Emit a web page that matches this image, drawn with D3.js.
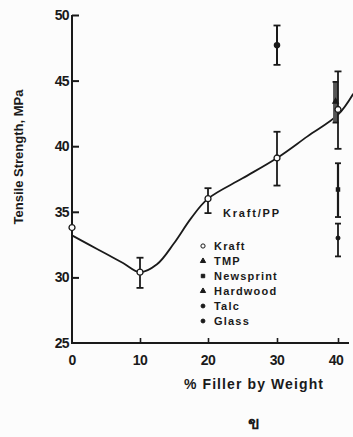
<!DOCTYPE html>
<html><head><meta charset="utf-8">
<script src="https://cdn.jsdelivr.net/npm/d3@7"></script>
<style>
html,body{margin:0;padding:0;background:#fcfcfc;}
svg{display:block;}
text{font-family:"Liberation Sans",Arial,sans-serif;font-weight:bold;fill:#1a1a1a;}
</style></head><body>
<svg id="c" width="353" height="437"></svg>
<script>
// ---- data ----
const xTicks = [0, 10, 20, 30, 40];
const yTicks = [25, 30, 35, 40, 45, 50];
const xTitle = "% Filler by Weight";
const yTitle = "Tensile Strength, MPa";
const panelLabel = "ข";
const seriesLabel = "Kraft/PP";
const legendNames = ["Kraft", "TMP", "Newsprint", "Hardwood", "Talc", "Glass"];

// fitted curve for Kraft
const fitX = [0, 2.5, 5, 7.5, 10, 12.5, 15, 17.5, 20, 25, 30, 35, 40, 42.5];
const fitY = [33.2, 32.5, 31.8, 31.1, 30.4, 31.0, 32.6, 34.5, 36.0, 37.55, 39.1, 40.75, 42.4, 44.0];

// measured points (value, low, high)
const kraftX  = [0, 10, 20, 30, 40];
const kraftY  = [33.8, 30.4, 36.0, 39.1, 42.8];
const kraftLo = [33.8, 29.2, 34.9, 37.0, 39.8];
const kraftHi = [33.8, 31.5, 36.8, 41.1, 45.7];

const glassX = [30], glassY = [47.7], glassLo = [46.2], glassHi = [49.2];
const hardX = [39.6], hardY = [43.4], hardLo = [41.8], hardHi = [44.9];
const newsX = [40], newsY = [36.7], newsLo = [34.6], newsHi = [38.7];
const talcX = [40], talcY = [33.0], talcLo = [31.6], talcHi = [34.1];

// ---- drawing ----
const svg = d3.select("#c");
const ink = "#1a1a1a";
const x = d3.scaleLinear().domain(xTicks).range([72, 140, 208, 277, 338]);
const y = d3.scaleLinear().domain([25, 50]).range([343, 15]);

// axes
const yAxis = svg.append("g").attr("transform", "translate(72,0)")
  .call(d3.axisRight(y).tickValues(yTicks).tickSize(7).tickFormat(""));
yAxis.select(".domain").attr("stroke", ink).attr("stroke-width", 2).attr("d", "M0,15V343");
yAxis.selectAll(".tick line").attr("stroke", ink).attr("stroke-width", 2);
yAxis.selectAll(".tick").filter(d => d === 25).remove();

const xAxis = svg.append("g").attr("transform", "translate(0,343)")
  .call(d3.axisTop(x).tickValues(xTicks).tickSize(5).tickFormat(""));
xAxis.select(".domain").attr("stroke", ink).attr("stroke-width", 2).attr("d", "M71,0H349");
xAxis.selectAll(".tick line").attr("stroke", ink).attr("stroke-width", 1.6);
xAxis.selectAll(".tick").filter(d => d === 0).remove();

// tick labels
svg.append("g").selectAll("text").data(yTicks).join("text")
  .attr("x", 69).attr("y", d => y(d) + 5).attr("text-anchor", "end")
  .attr("font-size", 14).attr("letter-spacing", -0.6).text(d => d);
svg.append("g").selectAll("text").data(xTicks).join("text")
  .attr("x", d => x(d) - (d === 40 ? 2 : 0)).attr("y", 365).attr("text-anchor", "middle")
  .attr("font-size", 14).attr("letter-spacing", -0.6).text(d => d);

// titles
svg.append("text").attr("x", 254).attr("y", 389).attr("text-anchor", "middle")
  .attr("font-size", 14).attr("letter-spacing", 1.1).text(xTitle);
svg.append("text").attr("transform", "translate(23,157) rotate(-90)").attr("text-anchor", "middle")
  .attr("font-size", 13).text(yTitle);
svg.append("text").attr("x", 254).attr("y", 429).attr("text-anchor", "middle")
  .attr("font-size", 17).text(panelLabel);
svg.append("text").attr("x", 223).attr("y", 217).attr("font-size", 11)
  .attr("letter-spacing", 1.8).text(seriesLabel);

// fitted curve
const line = d3.line().x(d => x(d[0])).y(d => y(d[1])).curve(d3.curveCatmullRom.alpha(0.5));
svg.append("path").datum(d3.zip(fitX, fitY)).attr("d", line)
  .attr("fill", "none").attr("stroke", ink).attr("stroke-width", 1.8);

function errorBars(xs, ys, lo, hi, w, cap, col) {
  const g = svg.append("g").attr("stroke", col || ink);
  xs.forEach((xv, i) => {
    if (hi[i] === lo[i]) return;
    const cx = x(xv);
    g.append("line").attr("x1", cx).attr("x2", cx).attr("y1", y(lo[i])).attr("y2", y(hi[i])).attr("stroke-width", w);
    [lo[i], hi[i]].forEach(v => g.append("line").attr("x1", cx - cap).attr("x2", cx + cap)
      .attr("y1", y(v)).attr("y2", y(v)).attr("stroke-width", 1.8).attr("stroke", ink));
  });
}
function markers(xs, ys, type, size, fill) {
  svg.append("g").selectAll("path").data(d3.zip(xs, ys)).join("path")
    .attr("transform", d => `translate(${x(d[0])},${y(d[1])})`)
    .attr("d", d3.symbol().type(type).size(size))
    .attr("fill", fill).attr("stroke", ink).attr("stroke-width", 1.3);
}

errorBars(hardX, hardY, hardLo, hardHi, 5, 3, "#555");
errorBars(kraftX, kraftY, kraftLo, kraftHi, 1.8, 3.5);
errorBars(glassX, glassY, glassLo, glassHi, 2, 3.5);
errorBars(newsX, newsY, newsLo, newsHi, 2.2, 3);
errorBars(talcX, talcY, talcLo, talcHi, 1.8, 3);
markers(kraftX, kraftY, d3.symbolCircle, 28, "#fcfcfc");
markers(glassX, glassY, d3.symbolCircle, 22, ink);
markers(newsX, newsY, d3.symbolSquare, 10, ink);
markers(talcX, talcY, d3.symbolCircle, 10, ink);
markers(hardX, hardY, d3.symbolTriangle, 12, ink);

// legend
const legTypes = [d3.symbolCircle, d3.symbolTriangle, d3.symbolSquare, d3.symbolTriangle, d3.symbolCircle, d3.symbolCircle];
const legFill = ["#fcfcfc", ink, ink, ink, ink, ink];
const legY = [246, 261, 276, 291, 306, 321];
const leg = svg.append("g");
legendNames.forEach((n, i) => {
  leg.append("path").attr("transform", `translate(203,${legY[i]})`)
    .attr("d", d3.symbol().type(legTypes[i]).size(i === 0 ? 14 : 12))
    .attr("fill", legFill[i]).attr("stroke", ink).attr("stroke-width", 1);
  leg.append("text").attr("x", 214).attr("y", legY[i] + 4).attr("font-size", 11)
    .attr("letter-spacing", 1.2).text(n);
});
</script></body></html>
